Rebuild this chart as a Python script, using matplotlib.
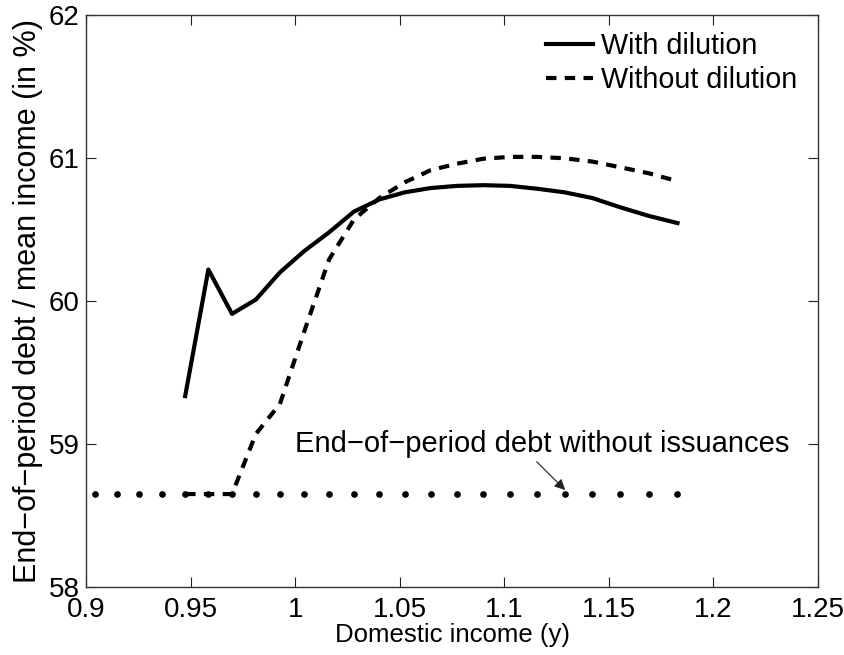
import matplotlib
matplotlib.use('Agg')
from matplotlib import pyplot as plt

plt.rcParams['font.family'] = ['Liberation Sans', 'DejaVu Sans']

# income grid points (log spaced)
y_grid = [0.9042, 0.9148, 0.9255, 0.9364, 0.9474, 0.9585, 0.9698, 0.9812,
          0.9927, 1.0044, 1.0162, 1.0281, 1.0402, 1.0524, 1.0648, 1.0773,
          1.0900, 1.1028, 1.1157, 1.1288, 1.1421, 1.1555, 1.1691, 1.1828]

# debt ratio with dilution (solid), defined from the 5th grid point on
x_dil = y_grid[4:]
debt_dil = [59.335, 60.22, 59.91, 60.01, 60.20, 60.35, 60.48, 60.625, 60.71,
            60.76, 60.79, 60.805, 60.81, 60.805, 60.785, 60.76, 60.72, 60.655,
            60.595, 60.545]

# debt ratio without dilution (dashed)
x_nodil = y_grid[4:]
debt_nodil = [58.65, 58.65, 58.65, 59.07, 59.28, 59.79, 60.29, 60.57, 60.72,
              60.83, 60.915, 60.96, 60.995, 61.008, 61.008, 60.998, 60.975,
              60.935, 60.893, 60.838]

# debt level if no new issuances (dotted)
debt_base = [58.65] * len(y_grid)

fig = plt.figure(figsize=(8.45, 6.55), dpi=100)
ax = fig.add_axes([0.1018, 0.1038, 0.8663, 0.8733])

ax.plot(y_grid, debt_base, linestyle='none', marker='o', markersize=3.8,
        color='black')
ax.plot(x_dil, debt_dil, color='black', lw=3.0, label='With dilution')
ax.plot(x_nodil, debt_nodil, color='black', lw=3.0, linestyle=(0, (2.5, 2.0)),
        label='Without dilution')

ax.set_xlim(0.9, 1.25)
ax.set_ylim(58, 62)
ax.set_xticks([0.9, 0.95, 1, 1.05, 1.1, 1.15, 1.2, 1.25])
ax.set_xticklabels(['0.9', '0.95', '1', '1.05', '1.1', '1.15', '1.2', '1.25'])
ax.set_yticks([58, 59, 60, 61, 62])
ax.tick_params(direction='in', length=7, width=0.8, top=True, right=True,
               labelsize=20, colors='#222222', labelcolor='black')
ax.tick_params(axis='x', pad=7.5)
ax.tick_params(axis='y', pad=4.5)
for s in ax.spines.values():
    s.set_linewidth(1.0)
    s.set_color('#333333')

ax.set_xlabel('Domestic income (y)', fontsize=18.5, labelpad=0)
ax.set_ylabel('End\u2212of\u2212period debt / mean income (in %)', fontsize=22,
              labelpad=4)

ax.text(1.0, 59.0, 'End\u2212of\u2212period debt without issuances', fontsize=21,
        ha='left', va='center')
ax.annotate('', xy=(1.1291, 58.678), xytext=(1.1155, 58.876),
            arrowprops=dict(arrowstyle='-|>', color='#222222', lw=0.8,
                            mutation_scale=16, shrinkA=0, shrinkB=0))

ax.legend(loc='upper right', bbox_to_anchor=(0.972, 0.970), frameon=False,
          fontsize=20.7, handlelength=1.63, handletextpad=0.28, labelspacing=0.2,
          borderpad=0, borderaxespad=0)

fig.savefig('out.png', dpi=100)
